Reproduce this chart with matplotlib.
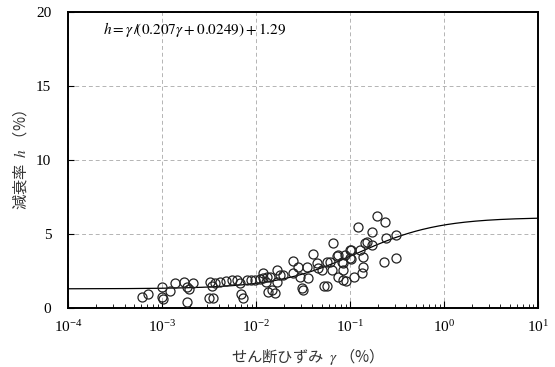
import numpy as np
import matplotlib
matplotlib.use("Agg")
import matplotlib.pyplot as plt
from matplotlib.ticker import LogLocator, FixedLocator

plt.rcParams['mathtext.fontset'] = 'stix'
plt.rcParams['font.family'] = ['Liberation Serif', 'DejaVu Serif']

# measured data: shear strain gamma (%) and damping ratio h (%)
gamma = [6.1e-4, 7.1e-4, 9.9e-4, 1.0e-3, 1.03e-3, 1.22e-3, 1.37e-3, 1.73e-3, 1.87e-3, 1.96e-3,
         2.16e-3, 1.87e-3, 3.13e-3, 3.49e-3, 3.24e-3, 3.40e-3, 3.71e-3, 4.14e-3, 4.80e-3, 5.56e-3,
         6.28e-3, 6.76e-3, 6.92e-3, 7.27e-3, 7.96e-3, 8.85e-3, 9.75e-3, 1.10e-2, 1.18e-2, 1.20e-2,
         1.31e-2, 1.28e-2, 1.35e-2, 1.47e-2, 1.59e-2, 1.41e-2, 1.66e-2, 1.66e-2, 1.80e-2, 1.95e-2,
         2.49e-2, 2.49e-2, 2.82e-2, 2.94e-2, 3.06e-2, 3.18e-2, 3.46e-2, 3.60e-2, 4.07e-2, 4.42e-2,
         4.60e-2, 5.00e-2, 5.29e-2, 5.77e-2, 5.65e-2, 6.12e-2, 6.38e-2, 6.64e-2, 7.22e-2, 7.51e-2,
         8.17e-2, 8.49e-2, 9.06e-2, 7.51e-2, 8.49e-2, 8.49e-2, 8.85e-2, 0.100, 0.104, 0.100,
         0.104, 0.112, 0.121, 0.128, 0.138, 0.138, 0.133, 0.145, 0.151, 0.171,
         0.170, 0.194, 0.238, 0.232, 0.245, 0.308, 0.308]
h = [0.71, 0.95, 1.39, 0.76, 0.59, 1.17, 1.71, 1.78, 1.44, 1.25,
     1.66, 0.43, 0.66, 0.66, 1.76, 1.45, 1.66, 1.74, 1.82, 1.86,
     1.89, 1.67, 0.91, 0.66, 1.89, 1.89, 1.89, 1.96, 2.34, 2.05,
     2.11, 1.78, 1.10, 1.22, 0.99, 2.11, 2.57, 1.78, 2.23, 2.23,
     3.20, 2.34, 2.75, 2.11, 1.33, 1.22, 2.79, 2.01, 3.65, 3.02,
     2.68, 2.57, 1.49, 1.49, 3.13, 3.13, 2.57, 4.41, 3.51, 2.11,
     3.13, 1.89, 1.84, 3.58, 3.02, 2.57, 3.58, 3.92, 3.92, 3.36,
     3.29, 2.07, 5.44, 3.92, 3.47, 2.77, 2.33, 4.37, 4.48, 5.16,
     4.26, 6.22, 5.83, 3.13, 4.76, 4.90, 3.38]

# fitted curve h = g/(a*g + b) + c
a, b, c = 0.207, 0.0249, 1.29

fig = plt.figure(figsize=(5.55, 3.67), dpi=100)
ax = fig.add_axes([0.1225, 0.161, 0.8465, 0.806])

g = np.logspace(-4, 1, 400)
ax.plot(g, g / (a * g + b) + c, color='black', lw=0.9, zorder=3)
ax.plot(gamma, h, linestyle='none', marker='o', markersize=6.5,
        markerfacecolor='none', markeredgecolor='#222222', markeredgewidth=0.9, zorder=4)

ax.set_xscale('log')
ax.set_xlim(1e-4, 1e1)
ax.set_ylim(0, 20)
ax.xaxis.set_major_locator(LogLocator(base=10, numticks=10))
ax.xaxis.set_minor_locator(LogLocator(base=10, subs=np.arange(2, 10), numticks=20))
ax.yaxis.set_major_locator(FixedLocator([0, 5, 10, 15, 20]))
ax.tick_params(axis='x', which='both', direction='in', top=False, labelsize=11, pad=8)
ax.tick_params(axis='x', which='major', length=5)
ax.tick_params(axis='x', which='minor', length=3)
ax.tick_params(axis='y', direction='in', length=4, labelsize=11, pad=12)
ax.grid(True, which='major', linestyle=(0, (4, 3)), color='#b4b4b4', lw=0.7)
for s in ax.spines.values():
    s.set_linewidth(1.4)

ax.text(0.074, 0.94, r'$h=\gamma\,/\!\left(0.207\gamma+0.0249\right)+1.29$',
        transform=ax.transAxes, fontsize=11, va='center', ha='left')

ax.set_xlabel('せん断ひずみ  $\\gamma$ （%）', family=['Noto Sans CJK JP', 'DejaVu Sans'],
              fontsize=11, color='#333333', labelpad=8)
ax.set_ylabel('減衰率  $h$ （%）', family=['Noto Sans CJK JP', 'DejaVu Sans'],
              fontsize=11, color='#333333', labelpad=4)

fig.savefig('out.png', dpi=100)
